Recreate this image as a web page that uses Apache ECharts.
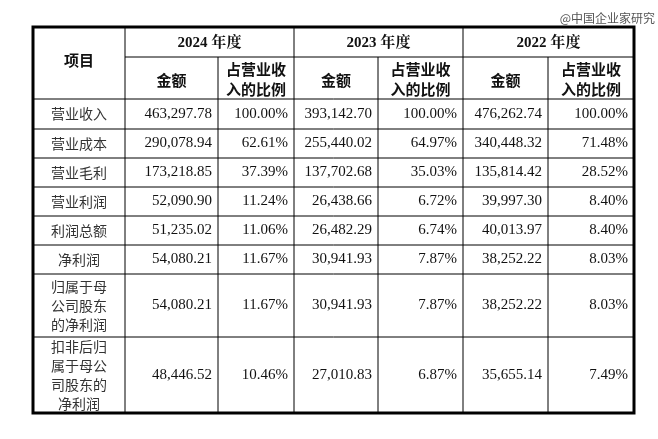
<!DOCTYPE html><html><head><meta charset="utf-8">
<script src="https://cdn.jsdelivr.net/npm/echarts@6/dist/echarts.min.js"></script>
<style>html,body{margin:0;background:#fff}#c{width:658px;height:439px}</style></head><body><div id="c"></div>
<script>
const years=['2024 年度','2023 年度','2022 年度'];
const items=['营业收入','营业成本','营业毛利','营业利润','利润总额','净利润','归属于母\n公司股东\n的净利润','扣非后归\n属于母公\n司股东的\n净利润'];
const amt2024=['463,297.78','290,078.94','173,218.85','52,090.90','51,235.02','54,080.21','54,080.21','48,446.52'];
const pct2024=['100.00%','62.61%','37.39%','11.24%','11.06%','11.67%','11.67%','10.46%'];
const amt2023=['393,142.70','255,440.02','137,702.68','26,438.66','26,482.29','30,941.93','30,941.93','27,010.83'];
const pct2023=['100.00%','64.97%','35.03%','6.72%','6.74%','7.87%','7.87%','6.87%'];
const amt2022=['476,262.74','340,448.32','135,814.42','39,997.30','40,013.97','38,252.22','38,252.22','35,655.14'];
const pct2022=['100.00%','71.48%','28.52%','8.40%','8.40%','8.03%','8.03%','7.49%'];
(function(){
const cols=[33,125,218,294,378,463,548,634];
const rows=[99,129,158,187,216,245,274,337,413];
const T=27,M=57;
const serif='"Liberation Serif","Noto Serif CJK SC","Noto Sans CJK SC",serif';
const cjk='"Noto Sans CJK SC",sans-serif';
const g=[];
function line(x1,y1,x2,y2,w){g.push({type:'line',shape:{x1,y1,x2,y2},style:{stroke:'#000',lineWidth:w||1}});}
function txt(x,y,t,o){g.push({type:'text',x,y,style:Object.assign({text:t,fill:'#111',font:'15px '+serif,align:'center',verticalAlign:'middle',lineHeight:22},o||{})});}
g.push({type:'rect',shape:{x:cols[0],y:T,width:cols[7]-cols[0],height:rows[8]-T},style:{fill:'none',stroke:'#000',lineWidth:3}});
for(let i=1;i<7;i++){line(cols[i],(i%2===0)?M:T,cols[i],rows[8]);}
line(cols[1],M,cols[7],M);
for(let r=0;r<8;r++)line(cols[0],rows[r],cols[7],rows[r]);
txt((cols[0]+cols[1])/2,(T+rows[0])/2-3,'项目',{font:'bold 15px '+cjk});
years.forEach((y,k)=>{
  const a=cols[1+2*k],b=cols[3+2*k];
  txt((a+b)/2,(T+M)/2+1,y,{font:'bold 15px '+serif});
  txt((a+cols[2+2*k])/2,(M+rows[0])/2+2,'金额',{font:'bold 15px '+cjk});
  txt((cols[2+2*k]+b)/2,(M+rows[0])/2+1,'占营业收\n入的比例',{font:'bold 15px '+cjk,lineHeight:20});
});
const data=[amt2024,pct2024,amt2023,pct2023,amt2022,pct2022];
items.forEach((it,r)=>{
  const cy=(rows[r]+rows[r+1])/2;
  txt((cols[0]+cols[1])/2,cy,it,{font:'14px '+cjk,fill:'#333',lineHeight:19});
  data.forEach((arr,c)=>{ txt(cols[c+2]-6,cy,arr[r],{align:'right',font:'15px '+serif}); });
});
g.push({type:'text',x:655,y:18,style:{text:'@中国企业家研究',fill:'#555',font:'12px '+cjk,align:'right',verticalAlign:'middle'}});
const ch=echarts.init(document.getElementById('c'));
ch.setOption({animation:false,graphic:{elements:g}});
})();
</script></body></html>
